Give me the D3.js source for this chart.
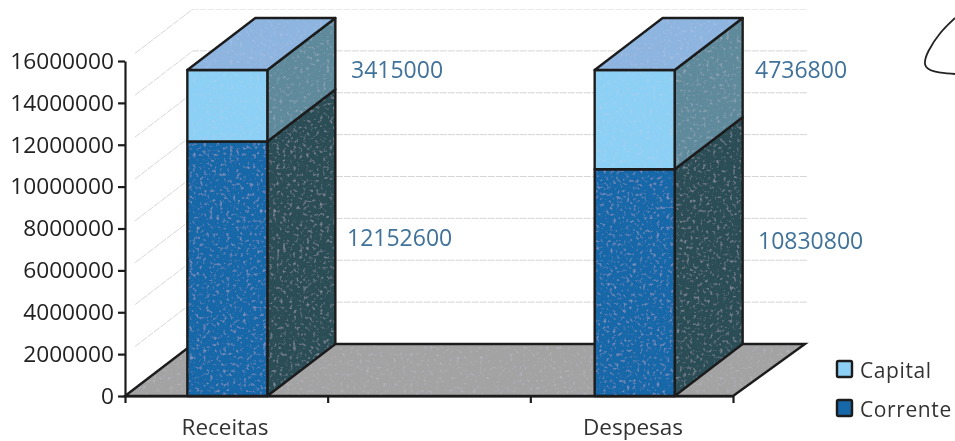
<!DOCTYPE html>
<html>
<head>
<meta charset="utf-8">
<script src="https://cdn.jsdelivr.net/npm/d3@7"></script>
<style>
  html, body { margin: 0; padding: 0; background: #fff; }
  svg { display: block; }
  text { font-family: 'Open Sans', sans-serif; }
</style>
</head>
<body>
<div id="chart"></div>
<script>
const categories = ['Receitas', '', 'Despesas'];
const corrente = [12152600, 0, 10830800];
const capital = [3415000, 0, 4736800];
const yTicks = [0, 2000000, 4000000, 6000000, 8000000, 10000000, 12000000, 14000000, 16000000];
const seriesNames = ['Capital', 'Corrente'];

const W = 955, H = 441;
const depth = { x: 68, y: 52 };
const barW = 80;
const ink = '#1c1c1c';
const colors = {
  capital: { front: '#8dd0f5', side: '#5f8a9b', top: '#8db5e0' },
  corrente: { front: '#1768a8', side: '#2b4e57' }
};

const svg = d3.select('#chart').append('svg')
  .attr('width', W).attr('height', H);

// Scan look: soft edges everywhere, faint grain on the coloured faces
const defs = svg.append('defs');
defs.append('filter').attr('id', 'soft')
  .attr('x', 0).attr('y', 0).attr('width', '100%').attr('height', '100%')
  .append('feGaussianBlur').attr('stdDeviation', 0.45);
const grain = defs.append('filter').attr('id', 'grain')
  .attr('x', 0).attr('y', 0).attr('width', '100%').attr('height', '100%');
grain.append('feTurbulence').attr('type', 'fractalNoise')
  .attr('baseFrequency', 0.3).attr('numOctaves', 2).attr('seed', 4).attr('result', 'noise');
grain.append('feColorMatrix').attr('in', 'noise').attr('type', 'matrix')
  .attr('values', '0 0 0 0 0.6  0 0 0 0 0.6  0 0 0 0 0.75  0 0 0 1.2 -0.68')
  .attr('result', 'specks');
grain.append('feComposite').attr('in', 'specks').attr('in2', 'SourceAlpha')
  .attr('operator', 'in').attr('result', 'inside');
const grainMerge = grain.append('feMerge');
grainMerge.append('feMergeNode').attr('in', 'SourceGraphic');
grainMerge.append('feMergeNode').attr('in', 'inside');

const root = svg.append('g').attr('filter', 'url(#soft)');

const x = d3.scaleLinear().domain([0, 3]).range([125, 733]);
const y = d3.scaleLinear().domain([0, 16000000]).range([396, 61]);
const pts = a => a.map(p => p.join(',')).join(' ');

// Back wall grid lines
const grid = root.append('g').attr('fill', 'none')
  .attr('stroke', '#d6d6d6').attr('stroke-width', 1)
  .attr('stroke-dasharray', '7 1');
yTicks.slice(1).forEach(v => {
  const yb = y(v) - depth.y;
  const k = depth.y / depth.x;
  grid.append('polyline').attr('points', pts([
    [135, y(v) - 10 * k],
    [x(0) + depth.x, yb],
    [808, yb]
  ]));
});

// Floor
const floorPts = pts([
  [x(0), y(0)],
  [x(0) + depth.x, y(0) - depth.y],
  [x(3) + depth.x + 4, y(0) - depth.y],
  [x(3), y(0)]
]);
root.append('polygon').attr('points', floorPts)
  .attr('fill', '#a3a3a3').attr('filter', 'url(#grain)');
root.append('polygon').attr('points', floorPts)
  .attr('fill', 'none').attr('stroke', ink).attr('stroke-width', 2.4);

// Bars: faces first with grain, then their outlines on top
function drawSegment(g, left, v0, v1, c, withTop) {
  const right = left + barW;
  const y0 = y(v0), y1 = y(v1);
  const faces = [
    { p: [[right, y0], [right + depth.x, y0 - depth.y], [right + depth.x, y1 - depth.y], [right, y1]], fill: c.side },
    { p: [[left, y0], [right, y0], [right, y1], [left, y1]], fill: c.front }
  ];
  if (withTop) {
    faces.push({ p: [[left, y1], [left + depth.x, y1 - depth.y], [right + depth.x, y1 - depth.y], [right, y1]], fill: c.top });
  }
  faces.forEach(f => {
    g.append('polygon').attr('points', pts(f.p))
      .attr('fill', f.fill).attr('filter', 'url(#grain)');
    g.append('polygon').attr('points', pts(f.p))
      .attr('fill', 'none').attr('stroke', ink).attr('stroke-width', 2.4)
      .attr('stroke-linejoin', 'round');
  });
}

const bars = root.append('g');
categories.forEach((cat, i) => {
  if (!cat) return;
  const left = x(i + 0.5) - barW / 2 + (i === 0 ? 1 : 3);
  drawSegment(bars, left, 0, corrente[i], colors.corrente, false);
  drawSegment(bars, left, corrente[i], corrente[i] + capital[i], colors.capital, true);
});

// Axes
const yAxis = root.append('g')
  .attr('transform', `translate(${x(0)},0)`)
  .call(d3.axisLeft(y).tickValues(yTicks).tickFormat(d3.format('d')).tickSize(7).tickSizeOuter(0).tickPadding(4));
yAxis.selectAll('text').attr('fill', '#222').attr('font-size', '22.7px').attr('font-family', "'Open Sans', sans-serif");
yAxis.selectAll('line, path').attr('stroke', ink).attr('stroke-width', 2.2);

const xAxis = root.append('g')
  .attr('transform', `translate(0,${y(0)})`)
  .call(d3.axisBottom(x).tickValues([0, 1, 2, 3]).tickFormat('').tickSize(7).tickSizeOuter(0));
xAxis.selectAll('line, path').attr('stroke', ink).attr('stroke-width', 2.2);

// Category labels
const categoryCentre = { 0: 225, 2: 633 };
categories.forEach((cat, i) => {
  if (!cat) return;
  root.append('text')
    .attr('x', categoryCentre[i]).attr('y', 435)
    .attr('text-anchor', 'middle')
    .attr('fill', '#333').attr('font-size', '22.5px')
    .text(cat);
});

// Value labels
const labelColor = '#41729a';
const labelPos = { 0: [[347, 246], [351, 78]], 2: [[758, 249], [755, 78]] };
categories.forEach((cat, i) => {
  if (!cat) return;
  [corrente[i], capital[i]].forEach((v, j) => {
    root.append('text')
      .attr('x', labelPos[i][j][0]).attr('y', labelPos[i][j][1])
      .attr('fill', labelColor).attr('font-size', '23px')
      .text(v);
  });
});

// Legend
seriesNames.forEach((name, i) => {
  const top = 361 + i * 39;
  const c = i === 0 ? colors.capital : colors.corrente;
  root.append('rect')
    .attr('x', 837).attr('y', top).attr('width', 15).attr('height', 16)
    .attr('rx', 1.5)
    .attr('fill', c.front).attr('stroke', ink).attr('stroke-width', 2.4);
  root.append('text')
    .attr('x', 860).attr('y', top + 17)
    .attr('fill', '#333').attr('font-size', '21px')
    .style('letter-spacing', '0.6px')
    .text(name);
});

// Pen mark in the top right corner of the scan
root.append('path')
  .attr('d', d3.line().curve(d3.curveBasis)([[955, 18], [940, 32], [927, 52], [923, 66], [932, 72], [955, 74]]))
  .attr('fill', 'none').attr('stroke', '#222').attr('stroke-width', 1.8);
</script>
</body>
</html>
